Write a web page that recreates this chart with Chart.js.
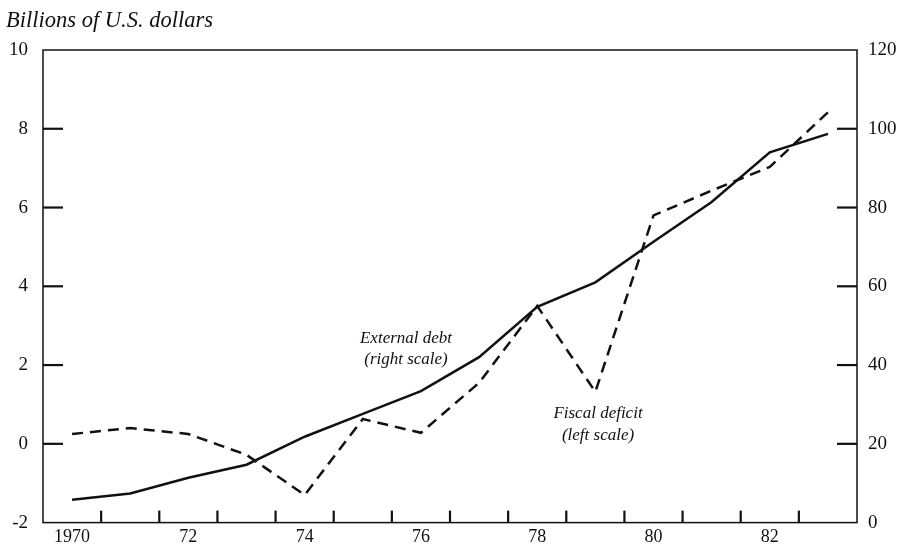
<!DOCTYPE html>
<html>
<head>
<meta charset="utf-8">
<script src="https://cdn.jsdelivr.net/npm/chart.js@4.4.0/dist/chart.umd.min.js"></script>
<style>
  html, body { margin: 0; padding: 0; background: #fff; }
  #wrap { width: 905px; height: 549px; position: relative; }
</style>
</head>
<body>
<div id="wrap"><canvas id="grafica"></canvas></div>
<script>
// Datos
const years = ['1970', '1971', '1972', '1973', '1974', '1975', '1976', '1977', '1978', '1979', '1980', '1981', '1982', '1983'];
const fiscalDeficit = [0.25, 0.4, 0.25, -0.28, -1.3, 0.63, 0.28, 1.55, 3.5, 1.32, 5.8, 6.43, 7.03, 8.42];   // escala izquierda
const externalDebt  = [5.8, 7.4, 11.4, 14.7, 21.8, 27.6, 33.4, 42, 54.8, 61, 71.3, 81.4, 94, 98.7];        // escala derecha
const leftTicks  = [-2, 0, 2, 4, 6, 8, 10];
const rightTicks = [0, 20, 40, 60, 80, 100, 120];

const FONT = 'Liberation Serif';
const INK = '#111';

// Marcas de eje hacia dentro, recuadro, título y rótulos
const marcos = {
  id: 'marcos',
  afterDraw(chart) {
    const { ctx, chartArea: a, scales } = chart;
    ctx.save();
    ctx.strokeStyle = INK;
    ctx.lineWidth = 1.5;
    ctx.strokeRect(a.left, a.top, a.right - a.left, a.bottom - a.top);

    ctx.lineWidth = 2.2;
    // ticks izquierda
    leftTicks.slice(1, -1).forEach(v => {
      const y = scales.y.getPixelForValue(v);
      ctx.beginPath(); ctx.moveTo(a.left, y); ctx.lineTo(a.left + 20, y); ctx.stroke();
    });
    // ticks derecha
    rightTicks.slice(1, -1).forEach(v => {
      const y = scales.y1.getPixelForValue(v);
      ctx.beginPath(); ctx.moveTo(a.right, y); ctx.lineTo(a.right - 20, y); ctx.stroke();
    });
    // ticks x entre años
    for (let i = 0; i < years.length - 1; i++) {
      const x = (scales.x.getPixelForValue(i) + scales.x.getPixelForValue(i + 1)) / 2;
      ctx.beginPath(); ctx.moveTo(x, a.bottom); ctx.lineTo(x, a.bottom - 12); ctx.stroke();
    }

    ctx.fillStyle = INK;
    ctx.textBaseline = 'alphabetic';
    ctx.textAlign = 'left';
    ctx.font = `italic 22.5px "${FONT}"`;
    ctx.fillText('Billions of U.S. dollars', 6, 27);

    ctx.textAlign = 'center';
    ctx.font = `italic 17px "${FONT}"`;
    ctx.fillText('External debt', 406, 343);
    ctx.fillText('(right scale)', 406, 364);
    ctx.fillText('Fiscal deficit', 598, 418);
    ctx.fillText('(left scale)', 598, 440);
    ctx.restore();
  }
};

new Chart(document.getElementById('grafica'), {
  type: 'line',
  data: {
    labels: years,
    datasets: [
      {
        label: 'External debt (right scale)',
        data: externalDebt,
        yAxisID: 'y1',
        borderColor: INK,
        borderWidth: 2.5,
        pointRadius: 0,
        tension: 0
      },
      {
        label: 'Fiscal deficit (left scale)',
        data: fiscalDeficit,
        yAxisID: 'y',
        borderColor: INK,
        borderWidth: 2.5,
        borderDash: [11, 7],
        pointRadius: 0,
        tension: 0
      }
    ]
  },
  options: {
    responsive: true,
    maintainAspectRatio: false,
    animation: false,
    // el padding de ticks cuenta doble en el ancho del eje, de ahí los negativos
    layout: { padding: { top: 50, left: -6, right: -2.5, bottom: -3.6 } },
    plugins: { legend: { display: false }, tooltip: { enabled: false } },
    scales: {
      x: {
        offset: true,
        grid: { display: false, drawTicks: false },
        border: { display: false },
        ticks: {
          autoSkip: false,
          maxRotation: 0,
          padding: 4,
          color: INK,
          font: { family: FONT, size: 18 },
          callback: (val, i) => i % 2 === 0 ? (i === 0 ? years[i] : years[i].slice(2)) : ''
        }
      },
      y: {
        position: 'left',
        min: -2, max: 10,
        grid: { display: false, drawTicks: false },
        border: { display: false },
        afterBuildTicks: s => { s.ticks = leftTicks.map(v => ({ value: v })); },
        ticks: { padding: 15, color: INK, font: { family: FONT, size: 19 } }
      },
      y1: {
        position: 'right',
        min: 0, max: 120,
        grid: { display: false, drawTicks: false },
        border: { display: false },
        afterBuildTicks: s => { s.ticks = rightTicks.map(v => ({ value: v })); },
        ticks: { padding: 11, color: INK, font: { family: FONT, size: 19 } }
      }
    }
  },
  plugins: [marcos]
});
</script>
</body>
</html>
